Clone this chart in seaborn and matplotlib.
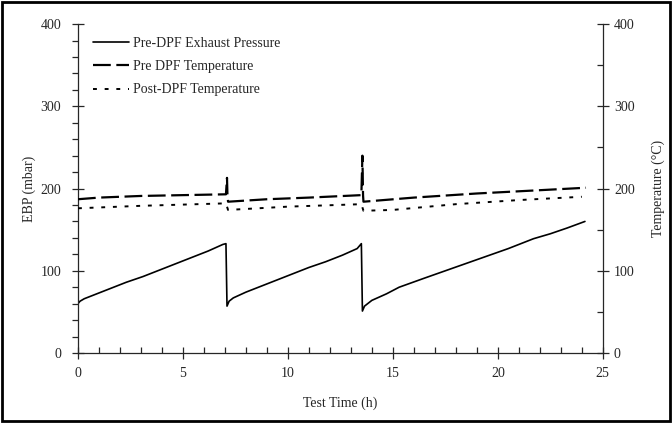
import numpy as np
import pandas as pd
import seaborn as sns
import matplotlib.pyplot as plt
from matplotlib.ticker import MultipleLocator
from matplotlib.patches import Rectangle

# values
ebp_time = [0, 0.1, 0.3, 0.7, 1.5, 2.3, 3.1, 3.9, 4.7, 5.5, 6.2, 6.9, 7.05,
            7.1, 7.2, 7.4, 8.0, 8.7, 9.5, 10.3, 11.0, 11.8, 12.6, 13.3, 13.5,
            13.55, 13.65, 14.0, 14.7, 15.3, 16.5, 17.5, 18.5, 19.5, 20.5,
            21.7, 22.5, 23.3, 24.15]
ebp_mbar = [60, 63, 66, 70, 78, 86, 93, 101, 109, 117, 124, 132, 133,
            57, 63, 67, 74, 81, 89, 97, 104, 111, 119, 127, 133,
            51, 57, 64, 72, 80, 91, 100, 109, 118, 127,
            139, 145, 152, 160]

pre_time = [0, 1, 3, 5, 7.05, 7.1, 7.12, 7.15, 9, 11, 13.5, 13.55, 13.58,
            13.6, 16, 19, 22, 24.2]
pre_temp = [187, 189, 191, 192, 193, 213, 193, 184, 187, 189, 192, 240, 192,
            184, 189, 194, 198, 201]

post_time = [0, 3, 7.05, 7.15, 10, 13.5, 13.6, 15, 18, 21, 24]
post_temp = [176, 179, 182, 174, 178, 181, 173, 174, 181, 186, 190]

sns.set_style("ticks")
plt.rcParams['font.family'] = ['Liberation Serif', 'DejaVu Serif']
plt.rcParams['font.size'] = 10

fig = plt.figure(figsize=(6.72, 4.23), dpi=100)
ax = fig.add_axes([0.116, 0.1655, 0.781, 0.7775])
ax2 = ax.twinx()

ebp = pd.DataFrame({'t': ebp_time, 'v': ebp_mbar})
pre = pd.DataFrame({'t': pre_time, 'v': pre_temp})
post = pd.DataFrame({'t': post_time, 'v': post_temp})

sns.lineplot(data=ebp, x='t', y='v', ax=ax, color='black', lw=1.2,
             estimator=None, sort=False, legend=False)
sns.lineplot(data=pre, x='t', y='v', ax=ax2, color='black', lw=1.6,
             estimator=None, sort=False, legend=False)
sns.lineplot(data=post, x='t', y='v', ax=ax2, color='black', lw=1.4,
             estimator=None, sort=False, legend=False)
ax.lines[0].set_label('Pre-DPF Exhaust Pressure')
ax2.lines[0].set_dashes([8, 2.5])
ax2.lines[0].set_label('Pre DPF Temperature')
ax2.lines[1].set_dashes([2, 4])
ax2.lines[1].set_label('Post-DPF Temperature')

for a in (ax, ax2):
    a.set_ylim(0, 400)
    a.set_xlim(0, 25)
    a.spines['top'].set_visible(False)
    for s in a.spines.values():
        s.set_linewidth(0.9)
ax.spines['right'].set_visible(False)
ax2.spines['left'].set_visible(False)
ax2.spines['bottom'].set_visible(False)

ax.xaxis.set_major_locator(MultipleLocator(5))
ax.xaxis.set_minor_locator(MultipleLocator(1))
ax.yaxis.set_major_locator(MultipleLocator(100))
ax.yaxis.set_minor_locator(MultipleLocator(20))
ax2.yaxis.set_major_locator(MultipleLocator(100))
ax2.yaxis.set_minor_locator(MultipleLocator(50))

ax.tick_params(axis='x', which='major', direction='inout', length=8, width=0.9, pad=6)
ax.tick_params(axis='x', which='minor', direction='in', length=4, width=0.9)
ax.tick_params(axis='y', which='major', direction='inout', length=8, width=0.9, pad=8)
ax.tick_params(axis='y', which='minor', direction='out', length=4, width=0.9)
ax2.tick_params(axis='y', which='major', direction='inout', length=8, width=0.9, pad=4)
ax2.tick_params(axis='y', which='minor', direction='in', length=4, width=0.9)

ax.set_xlabel('Test Time (h)', labelpad=12)
ax.set_ylabel('EBP (mbar)', labelpad=3)
ax2.set_ylabel('Temperature (\u00b0C)', labelpad=12)

handles = ax.lines[:1] + ax2.lines[:2]
ax2.legend(handles=handles, loc='upper left', frameon=False,
           bbox_to_anchor=(0.005, 1.0), handlelength=2.6, handletextpad=0.3,
           labelspacing=0.75, fontsize=10)

fig.patches.append(Rectangle((0.003, 0.004), 0.994, 0.992, transform=fig.transFigure,
                             fill=False, edgecolor='black', lw=2))

fig.savefig('out.png', dpi=100)
